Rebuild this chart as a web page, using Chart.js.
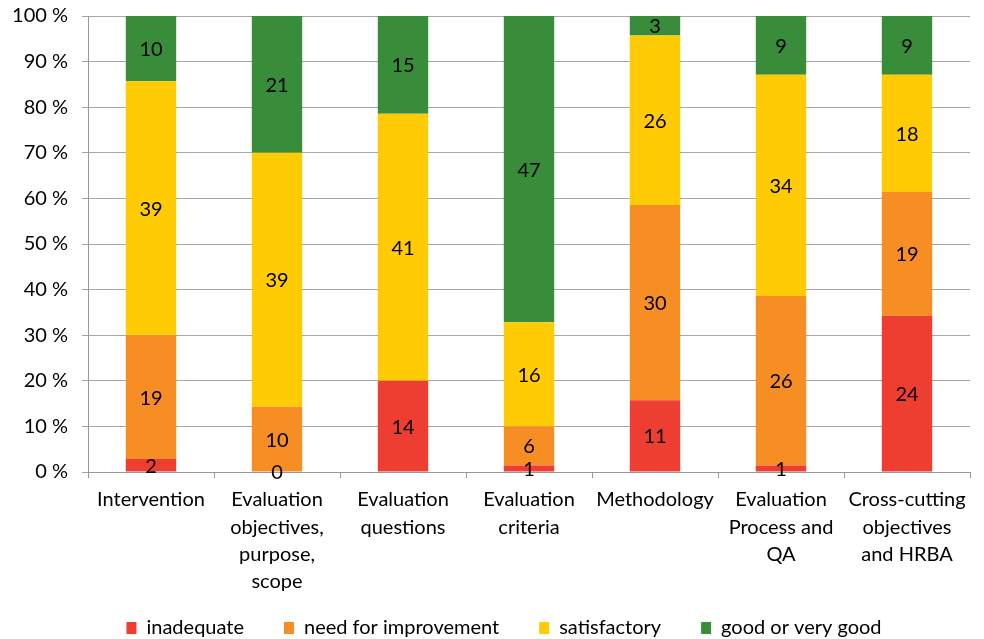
<!DOCTYPE html>
<html>
<head>
<meta charset="utf-8">
<script src="https://cdn.jsdelivr.net/npm/chart.js@4.4.1/dist/chart.umd.min.js"></script>
<style>
  html, body { margin: 0; padding: 0; background: #fff; }
  #wrap { width: 984px; height: 639px; }
</style>
</head>
<body>
<div id="wrap"><canvas id="ratingChart" width="984" height="639"></canvas></div>
<script>
// Quality ratings per report section (number of reports, 70 per section)
let sections = [
    "Intervention",
    ["Evaluation", "objectives,", "purpose,", "scope"],
    ["Evaluation", "questions"],
    ["Evaluation", "criteria"],
    "Methodology",
    ["Evaluation", "Process and", "QA"],
    ["Cross-cutting", "objectives", "and HRBA"]
];

let inadequate = [2, 0, 14, 1, 11, 1, 24];
let needImprovement = [19, 10, null, 6, 30, 26, 19];
let satisfactory = [39, 39, 41, 16, 26, 34, 18];
let goodOrVeryGood = [10, 21, 15, 47, 3, 9, 9];

let yTicks = [0, 10, 20, 30, 40, 50, 60, 70, 80, 90, 100];

let fontFamily = "Lato, 'Liberation Sans', sans-serif";
let fontSize = 20;

let totals = sections.map((s, i) =>
    (inadequate[i] || 0) + (needImprovement[i] || 0) + (satisfactory[i] || 0) + (goodOrVeryGood[i] || 0));

function toPercent(counts) {
    return counts.map((v, i) => v === null ? null : v / totals[i] * 100);
}

let series = [
    { label: "inadequate", counts: inadequate, color: "#EE3E32" },
    { label: "need for improvement", counts: needImprovement, color: "#F68E24" },
    { label: "satisfactory", counts: satisfactory, color: "#FFCB05" },
    { label: "good or very good", counts: goodOrVeryGood, color: "#388C3A" }
];

// writes the report count in the middle of each segment
let countLabels = {
    id: 'countLabels',
    afterDatasetsDraw(chart) {
        let ctx = chart.ctx;
        ctx.save();
        ctx.font = fontSize + "px " + fontFamily;
        ctx.fillStyle = "#000";
        ctx.textAlign = "center";
        ctx.textBaseline = "middle";
        chart.data.datasets.forEach((ds, di) => {
            chart.getDatasetMeta(di).data.forEach((bar, i) => {
                let n = ds.counts[i];
                if (n === null || n === undefined) return;
                let y = (bar.y + bar.base) / 2;
                ctx.fillText(String(n), bar.x, y + 1);
            });
        });
        ctx.restore();
    }
};

// move the legend row: a bit right, and up under the axis labels
let legendShift = {
    id: 'legendShift',
    afterLayout(chart) {
        let lg = chart.legend;
        lg.left += 19;
        lg.right += 19;
        lg.top -= 18;
        lg.bottom -= 18;
    }
};

let ctx = document.getElementById('ratingChart');
let ratingChart = new Chart(ctx, {
    type: 'bar',
    data: {
        labels: sections,
        datasets: series.map(s => ({
            label: s.label,
            counts: s.counts,
            data: toPercent(s.counts),
            backgroundColor: s.color,
            borderWidth: 0,
            categoryPercentage: 0.4,
            barPercentage: 1
        }))
    },
    options: {
        responsive: false,
        animation: false,
        layout: { padding: { top: 16, right: 14, left: 0, bottom: -27 } },
        plugins: {
            tooltip: { enabled: false },
            legend: {
                position: 'bottom',
                labels: {
                    boxWidth: 10,
                    boxHeight: 12,
                    padding: 40,
                    color: "#000",
                    font: { family: fontFamily, size: fontSize }
                }
            }
        },
        scales: {
            x: {
                stacked: true,
                grid: { display: true, drawOnChartArea: false, drawTicks: true, tickLength: 6, color: "#999", offset: true },
                border: { color: "#999", width: 1 },
                ticks: {
                    color: "#000",
                    padding: 8,
                    maxRotation: 0,
                    autoSkip: false,
                    font: { family: fontFamily, size: fontSize, lineHeight: 1.37 }
                },
                afterFit(scale) { scale.height = 124; }
            },
            y: {
                stacked: true,
                min: 0,
                max: 100,
                afterBuildTicks(scale) { scale.ticks = yTicks.map(v => ({ value: v })); },
                grid: { color: "#A6A6A6", tickLength: 6 },
                border: { color: "#999", width: 1 },
                ticks: {
                    color: "#000",
                    padding: 14,
                    font: { family: fontFamily, size: fontSize },
                    callback: v => v + " %"
                },
                afterFit(scale) {
                    scale.width = 88;
                    scale.paddingTop = 0;
                    scale.paddingBottom = 0;
                }
            }
        }
    },
    plugins: [countLabels, legendShift]
});
</script>
</body>
</html>
